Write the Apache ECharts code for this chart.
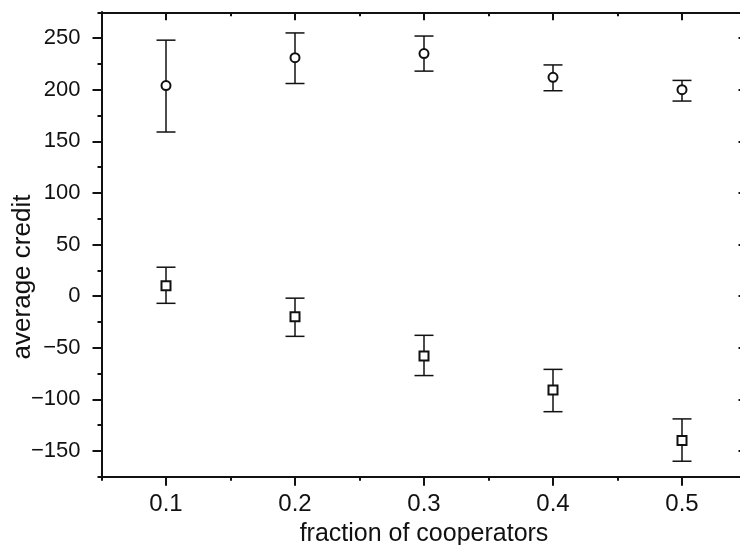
<!DOCTYPE html>
<html>
<head>
<meta charset="utf-8">
<script src="https://cdn.jsdelivr.net/npm/echarts@6/dist/echarts.min.js"></script>
<style>
html,body{margin:0;padding:0;background:#fff;}
#c{width:740px;height:545px;}
</style>
</head>
<body>
<div id="c"></div>
<script>
// ---- data ----
const fractions = [0.1, 0.2, 0.3, 0.4, 0.5];
const circleMean = [204, 231, 235, 212, 200];
const circleLow  = [159, 206, 218, 199, 189];
const circleHigh = [248, 255, 252, 224, 209];
const squareMean = [10, -20, -58, -91, -140];
const squareLow  = [-7, -39, -77, -112, -160];
const squareHigh = [28, -2, -38, -71, -119];
const xMajorTicks = [0.1, 0.2, 0.3, 0.4, 0.5];
const xMinorTicks = [0.05, 0.15, 0.25, 0.35, 0.45, 0.55];
const yMajorTicks = [-150, -100, -50, 0, 50, 100, 150, 200, 250];
const yMinorTicks = [-175, -125, -75, -25, 25, 75, 125, 175, 225, 275];
const xTitle = 'fraction of cooperators';
const yTitle = 'average credit';

const FONT = '"Liberation Sans", Arial, Helvetica, sans-serif';
const INK = '#111';
const chart = echarts.init(document.getElementById('c'), null, {renderer: 'canvas'});

const lineStyle = {color: INK, width: 2};
function xAx(pos, ticks, len, inside, extra) {
  return Object.assign({
    type: 'value', position: pos, min: 0.05, max: 0.55, gridIndex: 0,
    axisLine: {show: true, onZero: false, lineStyle: lineStyle},
    axisTick: {show: true, customValues: ticks, length: len, inside: inside, lineStyle: lineStyle},
    axisLabel: {show: false},
    splitLine: {show: false}
  }, extra || {});
}
function yAx(pos, ticks, len, inside, extra) {
  return Object.assign({
    type: 'value', position: pos, min: -175, max: 275, gridIndex: 0,
    axisLine: {show: true, onZero: false, lineStyle: lineStyle},
    axisTick: {show: true, customValues: ticks, length: len, inside: inside, lineStyle: lineStyle},
    axisLabel: {show: false},
    splitLine: {show: false}
  }, extra || {});
}

function errRender(params, api) {
  const x = api.value(0);
  const lo = api.coord([x, api.value(1)]);
  const hi = api.coord([x, api.value(2)]);
  const h = 9.5;
  const st = {stroke: INK, lineWidth: 1.5};
  return {
    type: 'group',
    children: [
      {type: 'line', shape: {x1: lo[0], y1: lo[1], x2: hi[0], y2: hi[1]}, style: st},
      {type: 'line', shape: {x1: lo[0] - h, y1: lo[1], x2: lo[0] + h, y2: lo[1]}, style: st},
      {type: 'line', shape: {x1: hi[0] - h, y1: hi[1], x2: hi[0] + h, y2: hi[1]}, style: st}
    ]
  };
}

const option = {
  animation: false,
  backgroundColor: '#fff',
  grid: {left: 101.5, top: 12.3, width: 645, height: 464.4, containLabel: false, outerBoundsMode: 'none'},
  xAxis: [
    xAx('bottom', xMajorTicks, 9, false, {
      axisLabel: {show: true, customValues: xMajorTicks, fontSize: 24, fontFamily: FONT, color: INK, margin: 16,
        formatter: v => v.toFixed(1)},
      name: xTitle, nameLocation: 'middle', nameGap: 38,
      nameTextStyle: {fontSize: 25, fontFamily: FONT, color: INK, verticalAlign: 'top'}
    }),
    xAx('bottom', xMinorTicks, 4, false),
    xAx('top', xMajorTicks, 8, true),
    xAx('top', xMinorTicks, 4, true)
  ],
  yAxis: [
    yAx('left', yMajorTicks, 9, false, {
      axisLabel: {show: true, customValues: yMajorTicks, fontSize: 22, fontFamily: FONT, color: INK, margin: 21,
        formatter: v => (v < 0 ? '\u2212' + Math.abs(v) : String(v))}
    }),
    yAx('left', yMinorTicks, 4, false),
    yAx('right', yMajorTicks, 8, true),
    yAx('right', yMinorTicks, 4, true)
  ],
  graphic: [{
    type: 'text', x: 22.5, y: 277, rotation: Math.PI / 2,
    style: {text: yTitle, font: '26px ' + FONT, fill: INK, align: 'center', verticalAlign: 'middle'}
  }],
  series: [
    {
      type: 'custom', name: 'circle error', xAxisIndex: 0, yAxisIndex: 0,
      renderItem: errRender, encode: {x: 0, y: [1, 2]}, z: 2,
      data: fractions.map((f, i) => [f, circleLow[i], circleHigh[i]])
    },
    {
      type: 'custom', name: 'square error', xAxisIndex: 0, yAxisIndex: 0,
      renderItem: errRender, encode: {x: 0, y: [1, 2]}, z: 2,
      data: fractions.map((f, i) => [f, squareLow[i], squareHigh[i]])
    },
    {
      type: 'scatter', name: 'circles', xAxisIndex: 0, yAxisIndex: 0, z: 3,
      symbol: 'circle', symbolSize: 9,
      itemStyle: {color: '#fff', borderColor: INK, borderWidth: 2, opacity: 1},
      data: fractions.map((f, i) => [f, circleMean[i]])
    },
    {
      type: 'scatter', name: 'squares', xAxisIndex: 0, yAxisIndex: 0, z: 3,
      symbol: 'rect', symbolSize: 9,
      itemStyle: {color: '#fff', borderColor: INK, borderWidth: 2, opacity: 1},
      data: fractions.map((f, i) => [f, squareMean[i]])
    }
  ]
};
chart.setOption(option);
</script>
</body>
</html>
